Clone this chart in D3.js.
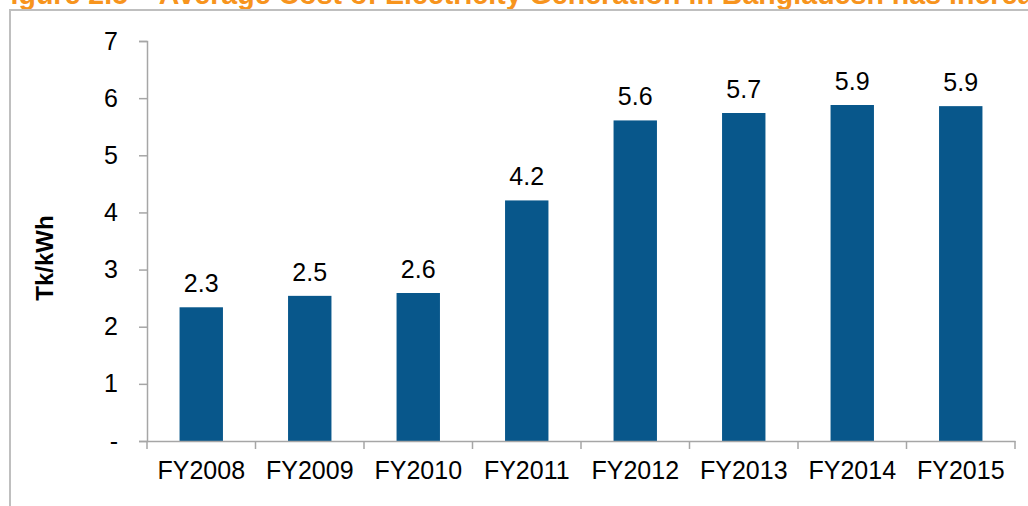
<!DOCTYPE html>
<html>
<head>
<meta charset="utf-8">
<script src="https://cdn.jsdelivr.net/npm/d3@7"></script>
<style>
  body { margin: 0; background: #fff; }
  svg { display: block; font-family: Arial, "Liberation Sans", sans-serif; }
</style>
</head>
<body>
<div id="chart"></div>
<script>
// data
var years = ["FY2008", "FY2009", "FY2010", "FY2011", "FY2012", "FY2013", "FY2014", "FY2015"];
var costs = [2.34, 2.54, 2.59, 4.21, 5.61, 5.74, 5.88, 5.86];
var yTicks = [0, 1, 2, 3, 4, 5, 6, 7];
var titleText = "Figure 2.5 \u2013 Average Cost of Electricity Generation in Bangladesh has increased";
var yTitle = "Tk/kWh";

var W = 1028, H = 506;
var margin = { top: 41, right: 13, bottom: 65, left: 147 },
    width = W - margin.left - margin.right,
    height = H - margin.top - margin.bottom;

var svg = d3.select("#chart")
    .append("svg")
    .attr("width", W)
    .attr("height", H);

// orange title, cut by the top edge as in the source
svg.append("text")
    .attr("x", -7)
    .attr("y", 4)
    .style("fill", "#f7941d")
    .style("font-weight", "bold")
    .style("font-size", "28.6px")
    .text(titleText);

// grey frame (only the top and left edges fall inside the picture)
svg.append("path")
    .attr("d", "M10," + (H + 5) + "V10H" + (W + 5))
    .style("fill", "none")
    .style("stroke", "#bfbfbf")
    .style("stroke-width", 2);

var g = svg.append("g")
    .attr("transform", "translate(" + margin.left + "," + margin.top + ")");

var x = d3.scaleBand()
    .domain(years)
    .range([0, width])
    .paddingInner(0.6)
    .paddingOuter(0.3);

var y = d3.scaleLinear()
    .domain([0, 7])
    .range([height, 0]);

// bars
g.selectAll(".bar")
    .data(years)
    .enter()
    .append("rect")
    .attr("class", "bar")
    .attr("x", function (d) { return x(d); })
    .attr("width", x.bandwidth())
    .attr("y", function (d, i) { return y(costs[i]); })
    .attr("height", function (d, i) { return y(0) - y(costs[i]); })
    .style("fill", "#08578b");

// value labels
var fmt = d3.format(".1f");
g.selectAll(".lbl")
    .data(years)
    .enter()
    .append("text")
    .attr("class", "lbl")
    .attr("x", function (d) { return x(d) + x.bandwidth() / 2; })
    .attr("y", function (d, i) { return y(costs[i]) - 15; })
    .style("text-anchor", "middle")
    .style("font-size", "25px")
    .style("fill", "#000")
    .text(function (d, i) { return fmt(costs[i]); });

// Y axis
var yaxis = g.append("g")
    .call(d3.axisLeft(y)
        .tickValues(yTicks)
        .tickSize(8)
        .tickPadding(21)
        .tickFormat(function (d) { return d === 0 ? "-" : d; }));
yaxis.select(".domain").style("stroke", "#a6a6a6").style("stroke-width", 1.5);
yaxis.selectAll(".tick line").style("stroke", "#a6a6a6").style("stroke-width", 1.5);
yaxis.selectAll(".tick text")
    .style("font-size", "25px")
    .style("fill", "#000")
    .style("font-family", "Arial, 'Liberation Sans', sans-serif");

// X axis: labels centred, ticks at category boundaries
var xaxis = g.append("g")
    .attr("transform", "translate(0," + height + ")")
    .call(d3.axisBottom(x).tickSize(0).tickPadding(20));
xaxis.select(".domain").style("stroke", "#a6a6a6").style("stroke-width", 1.5);
xaxis.selectAll(".tick text")
    .style("font-size", "25px")
    .style("fill", "#000")
    .style("font-family", "Arial, 'Liberation Sans', sans-serif");

var bounds = d3.range(years.length + 1).map(function (i) { return x.range()[0] + i * x.step(); });
xaxis.selectAll(".sep")
    .data(bounds)
    .enter()
    .append("line")
    .attr("class", "sep")
    .attr("x1", function (d) { return d; })
    .attr("x2", function (d) { return d; })
    .attr("y1", 0)
    .attr("y2", 8)
    .style("stroke", "#a6a6a6")
    .style("stroke-width", 1.5);

// Y axis title
svg.append("text")
    .attr("transform", "translate(53,258) rotate(-90)")
    .style("text-anchor", "middle")
    .style("font-weight", "bold")
    .style("font-size", "24px")
    .style("fill", "#000")
    .text(yTitle);
</script>
</body>
</html>
